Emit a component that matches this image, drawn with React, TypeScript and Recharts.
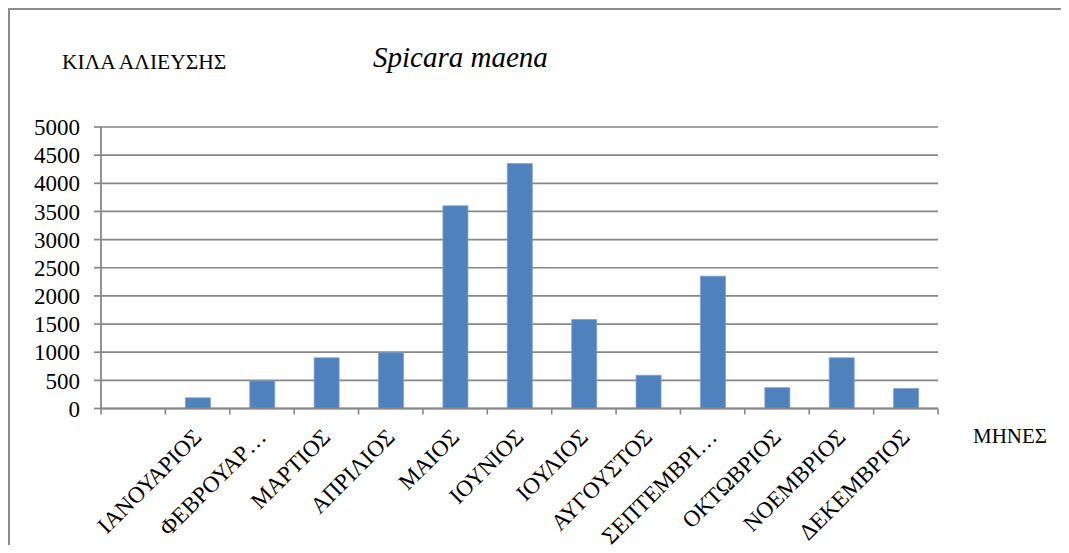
import React from "react";
import { BarChart, Bar, XAxis, YAxis, CartesianGrid } from "recharts";

const months: string[] = [
  "",
  "ΙΑΝΟΥΑΡΙΟΣ",
  "ΦΕΒΡΟΥΑΡ…",
  "ΜΑΡΤΙΟΣ",
  "ΑΠΡΙΛΙΟΣ",
  "ΜΑΙΟΣ",
  "ΙΟΥΝΙΟΣ",
  "ΙΟΥΛΙΟΣ",
  "ΑΥΓΟΥΣΤΟΣ",
  "ΣΕΠΤΕΜΒΡΙ…",
  "ΟΚΤΩΒΡΙΟΣ",
  "ΝΟΕΜΒΡΙΟΣ",
  "ΔΕΚΕΜΒΡΙΟΣ",
];
const catchKg: (number | null)[] = [null, 190, 490, 900, 990, 3600, 4350, 1580, 590, 2350, 370, 900, 355];
const yTicks: number[] = [0, 500, 1000, 1500, 2000, 2500, 3000, 3500, 4000, 4500, 5000];

const titleText = "Spicara maena";
const yAxisTitle = "ΚΙΛΑ ΑΛΙΕΥΣΗΣ";
const xAxisTitle = "ΜΗΝΕΣ";

const data = months.map((m, i) => ({ month: m, kg: catchKg[i] }));

const FONT = "\"Liberation Serif\", \"Times New Roman\", serif";
const GRID = "#878787";
const W = 1053;
const FRAME_W = 1061;
const H = 537;
const MARGIN = { top: 119, right: 123, bottom: 0, left: 0 };
const BAND_HALF = (W - 93 - MARGIN.right) / months.length / 2;

const XTick = (props: any) => {
  const { x, y, payload } = props;
  const idx = payload?.index ?? props.index;
  const half = typeof payload?.offset === "number" && payload.offset > 0 ? payload.offset : BAND_HALF;
  const ax = x + 5.5;
  const ay = y + 24;
  return (
    <g>
      <line x1={x - half} y1={y - 6} x2={x - half} y2={y} stroke={GRID} strokeWidth={1.6} />
      {idx === months.length - 1 && (
        <line x1={x + half} y1={y - 6} x2={x + half} y2={y} stroke={GRID} strokeWidth={1.6} />
      )}
      {payload.value ? (
        <text
          x={ax}
          y={ay}
          transform={`rotate(-45, ${ax}, ${ay})`}
          textAnchor="end"
          style={{ fontFamily: FONT, fontSize: 23 }}
          fill="#000"
        >
          {payload.value}
        </text>
      ) : null}
    </g>
  );
};

const YTick = (props: any) => {
  const { x, y, payload } = props;
  return (
    <text x={x} y={y} dy="0.355em" textAnchor="end" style={{ fontFamily: FONT, fontSize: 23 }} fill="#000">
      {payload.value}
    </text>
  );
};

export default function App() {
  return (
    <div style={{ position: "relative", width: W, height: H, fontFamily: FONT }}>
      <style>{"html,body{overflow:hidden}"}</style>
      <div
        style={{
          position: "absolute",
          left: 0,
          top: 0,
          width: FRAME_W,
          height: H,
          boxSizing: "border-box",
          borderLeft: "2px solid #8c8c8c",
          borderTop: "2px solid #8c8c8c",
          pointerEvents: "none",
        }}
      />
      <BarChart width={W} height={H} data={data} margin={MARGIN} style={{ fontFamily: FONT }}>
        <CartesianGrid vertical={false} stroke={GRID} strokeWidth={1.7} />
        <XAxis
          dataKey="month"
          height={136.5}
          interval={0}
          tickLine={false}
          tickSize={6}
          tickMargin={0}
          axisLine={{ stroke: GRID, strokeWidth: 1.8 }}
          tick={<XTick />}
        />
        <YAxis
          width={93}
          domain={[0, 5000]}
          ticks={yTicks}
          interval={0}
          tickSize={7}
          tickMargin={14}
          tickLine={{ stroke: GRID, strokeWidth: 1.7 }}
          axisLine={{ stroke: GRID, strokeWidth: 1.8 }}
          tick={<YTick />}
        />
        <Bar dataKey="kg" fill="#4f81bd" stroke="#7b9fd3" strokeWidth={0.8} barSize={25} isAnimationActive={false} />
      </BarChart>
      <svg
        width={FRAME_W}
        height={H}
        style={{ position: "absolute", left: 0, top: 0, pointerEvents: "none" }}
      >
        <text x={54} y={61} style={{ fontFamily: FONT, fontSize: 21.5 }} fill="#000">
          {yAxisTitle}
        </text>
        <text x={365} y={59} style={{ fontFamily: FONT, fontSize: 29, fontStyle: "italic" }} fill="#000">
          {titleText}
        </text>
        <text x={965} y={435} style={{ fontFamily: FONT, fontSize: 21 }} fill="#000">
          {xAxisTitle}
        </text>
      </svg>
    </div>
  );
}
